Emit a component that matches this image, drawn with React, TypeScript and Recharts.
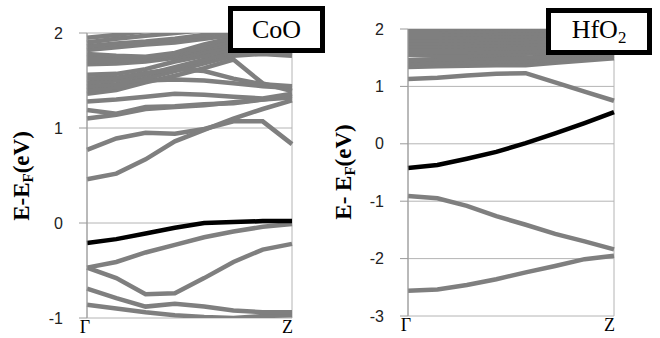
import React from "react";
import { LineChart, Line, XAxis, YAxis, CartesianGrid } from "recharts";

// k-path sampling from Γ to Z
const kPoints = [0, 1, 2, 3, 4, 5, 6, 7];
const kLabels = ["Γ", "Z"];

const coTicks = [-1, 0, 1, 2];
const hfTicks = [-3, -2, -1, 0, 1, 2];

// CoO bands (eV), gray
const coBands = [
  [-0.86, -0.9, -0.94, -0.97, -0.99, -1.0, -0.98, -0.97],
  [-0.69, -0.79, -0.88, -0.85, -0.88, -0.92, -0.94, -0.94],
  [-0.47, -0.58, -0.75, -0.74, -0.58, -0.41, -0.28, -0.22],
  [-0.47, -0.41, -0.31, -0.23, -0.15, -0.09, -0.04, -0.01],
  [0.46, 0.52, 0.67, 0.86, 0.98, 1.1, 1.2, 1.29],
  [0.77, 0.89, 0.95, 0.94, 0.99, 1.07, 1.07, 0.83],
  [1.1, 1.14, 1.2, 1.22, 1.24, 1.27, 1.3, 1.32],
  [1.19, 1.15, 1.22, 1.23, 1.25, 1.26, 1.3, 1.34],
  [1.28, 1.3, 1.33, 1.36, 1.35, 1.33, 1.31, 1.36],
  [1.36, 1.4, 1.48, 1.55, 1.63, 1.72, 1.47, 1.39],
  [1.4, 1.43, 1.5, 1.51, 1.5, 1.47, 1.44, 1.42],
  [1.44, 1.46, 1.52, 1.6, 1.68, 1.76, 1.78, 1.76],
  [1.48, 1.5, 1.56, 1.64, 1.72, 1.8, 1.8, 1.78],
  [1.52, 1.53, 1.58, 1.62, 1.6, 1.52, 1.46, 1.44],
  [1.56, 1.57, 1.62, 1.7, 1.76, 1.84, 1.86, 1.87],
  [1.67, 1.68, 1.7, 1.74, 1.8, 1.86, 1.88, 1.88],
  [1.7, 1.71, 1.72, 1.76, 1.83, 1.89, 1.91, 1.92],
  [1.74, 1.74, 1.74, 1.77, 1.85, 1.92, 1.95, 1.96],
  [1.78, 1.76, 1.75, 1.79, 1.88, 1.95, 1.98, 2.0],
  [1.82, 1.85, 1.88, 1.9, 1.94, 1.98, 2.02, 2.03],
  [1.86, 1.89, 1.91, 1.94, 1.98, 2.02, 2.05, 2.05],
  [1.9, 1.94, 1.97, 2.0, 2.03, 2.05, 2.08, 2.08],
  [1.95, 1.98, 2.02, 2.05, 2.08, 2.1, 2.1, 2.1],
];
// CoO band at the Fermi level (black)
const coFermiBand = [-0.21, -0.17, -0.11, -0.05, 0.0, 0.01, 0.02, 0.02];

// HfO2 bands (eV), gray
const hfBands = [
  [-2.56, -2.54, -2.46, -2.36, -2.24, -2.13, -2.01, -1.95],
  [-0.91, -0.95, -1.08, -1.26, -1.41, -1.57, -1.7, -1.84],
  [1.13, 1.15, 1.19, 1.22, 1.23, 1.07, 0.91, 0.75],
  [1.34, 1.35, 1.36, 1.37, 1.37, 1.41, 1.45, 1.49],
  [1.4, 1.41, 1.42, 1.43, 1.44, 1.47, 1.5, 1.53],
  [1.46, 1.47, 1.48, 1.49, 1.5, 1.53, 1.55, 1.57],
  [1.55, 1.53, 1.53, 1.55, 1.57, 1.59, 1.61, 1.62],
  [1.6, 1.59, 1.59, 1.6, 1.61, 1.63, 1.65, 1.67],
  [1.65, 1.65, 1.65, 1.66, 1.67, 1.68, 1.7, 1.72],
  [1.7, 1.7, 1.71, 1.72, 1.73, 1.74, 1.75, 1.77],
  [1.75, 1.75, 1.76, 1.77, 1.78, 1.79, 1.8, 1.82],
  [1.8, 1.8, 1.81, 1.82, 1.83, 1.84, 1.85, 1.86],
  [1.85, 1.85, 1.86, 1.87, 1.88, 1.89, 1.9, 1.91],
  [1.9, 1.9, 1.91, 1.92, 1.93, 1.94, 1.95, 1.95],
  [1.95, 1.95, 1.96, 1.97, 1.98, 1.99, 2.0, 2.0],
  [2.0, 2.0, 2.01, 2.02, 2.03, 2.04, 2.05, 2.05],
];
// HfO2 band near the Fermi level (black)
const hfFermiBand = [-0.42, -0.37, -0.26, -0.14, 0.01, 0.18, 0.36, 0.55];

const GRAY = "#7f7f7f";

function buildRows(bands: number[][], fermi: number[]) {
  return kPoints.map((k, i) => {
    const row: Record<string, number> = { k, fermi: fermi[i] };
    bands.forEach((b, j) => {
      row["b" + j] = b[i];
    });
    return row;
  });
}

function KTick(props: any) {
  const { x, y, payload } = props;
  const isEnd = payload.value === kPoints[kPoints.length - 1];
  return (
    <text
      x={isEnd ? x + 1 : x - 2}
      y={y}
      dy={15}
      textAnchor={isEnd ? "end" : "middle"}
      fontFamily="'Liberation Serif', serif"
      fontSize={18}
      fill="#000"
    >
      {payload.value === 0 ? kLabels[0] : kLabels[1]}
    </text>
  );
}

interface PanelProps {
  left: number;
  bands: number[][];
  fermi: number[];
  ticks: number[];
  margin: { top: number; right: number; bottom: number; left: number };
  xHeight: number;
}

function Panel({ left, bands, fermi, ticks, margin, xHeight }: PanelProps) {
  const rows = buildRows(bands, fermi);
  return (
    <div style={{ position: "absolute", left, top: 0 }}>
      <LineChart width={330} height={338} data={rows} margin={margin}>
        <CartesianGrid stroke="#b4b4b4" strokeWidth={1} />
        <XAxis
          dataKey="k"
          type="number"
          domain={[0, 7]}
          ticks={[0, 7]}
          height={xHeight}
          tickLine={false}
          axisLine={false}
          tickSize={0}
          tickMargin={0}
          tick={<KTick />}
          interval={0}
        />
        <YAxis
          type="number"
          domain={[ticks[0], ticks[ticks.length - 1]]}
          ticks={ticks}
          allowDataOverflow
          width={40}
          interval={0}
          axisLine={{ stroke: "#9a9a9a" }}
          tickLine={{ stroke: "#9a9a9a" }}
          tickSize={8}
          tickMargin={16}
          tick={{ fill: "#222", fontSize: 16, fontFamily: "'Liberation Sans', sans-serif" }}
        />
        {bands.map((_, j) => (
          <Line
            key={j}
            dataKey={"b" + j}
            type="linear"
            stroke={GRAY}
            strokeWidth={4.5}
            dot={false}
            isAnimationActive={false}
          />
        ))}
        <Line
          dataKey="fermi"
          type="linear"
          stroke="#000"
          strokeWidth={4.5}
          dot={false}
          isAnimationActive={false}
        />
      </LineChart>
    </div>
  );
}

function AxisTitle({ cx, cy, text }: { cx: number; cy: number; text: string }) {
  return (
    <div
      style={{
        position: "absolute",
        left: cx,
        top: cy,
        transform: "translate(-50%, -50%) rotate(-90deg)",
        fontFamily: "'Liberation Serif', serif",
        fontWeight: "bold",
        fontSize: 23,
        lineHeight: "24px",
        whiteSpace: "nowrap",
        color: "#000",
      }}
    >
      {text}
      <sub style={{ fontSize: "0.65em", verticalAlign: "-0.25em" }}>F</sub>
      (eV)
    </div>
  );
}

function LabelBox({ left, top, width, height, children }: any) {
  return (
    <div
      style={{
        position: "absolute",
        left,
        top,
        width,
        height,
        boxSizing: "border-box",
        border: "5px solid #000",
        background: "#fff",
        display: "flex",
        alignItems: "center",
        justifyContent: "center",
        fontFamily: "'Liberation Serif', serif",
        fontSize: 26,
        color: "#000",
      }}
    >
      {children}
    </div>
  );
}

export default function App() {
  return (
    <div
      style={{
        position: "absolute",
        left: 0,
        top: 0,
        width: 660,
        height: 338,
        background: "#fff",
        overflow: "hidden",
      }}
    >
      <Panel
        left={0}
        bands={coBands}
        fermi={coFermiBand}
        ticks={coTicks}
        margin={{ top: 33, right: 38, bottom: 0, left: 47 }}
        xHeight={20}
      />
      <Panel
        left={330}
        bands={hfBands}
        fermi={hfFermiBand}
        ticks={hfTicks}
        margin={{ top: 29, right: 46, bottom: 0, left: 38 }}
        xHeight={22}
      />
      <AxisTitle cx={25} cy={176} text="E-E" />
      <AxisTitle cx={347} cy={172} text="E- E" />
      <LabelBox left={228} top={6} width={97} height={47}>
        CoO
      </LabelBox>
      <LabelBox left={546} top={8} width={106} height={47}>
        <span>
          HfO<sub style={{ fontSize: "0.65em", verticalAlign: "-0.3em" }}>2</sub>
        </span>
      </LabelBox>
    </div>
  );
}
